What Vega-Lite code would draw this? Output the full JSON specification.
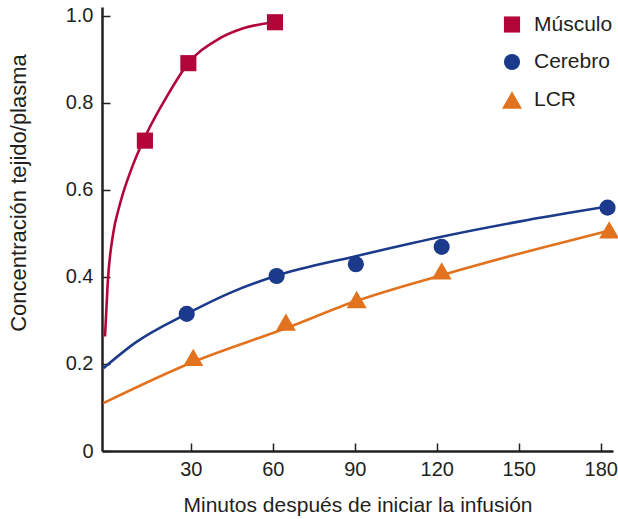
{
  "$schema": "https://vega.github.io/schema/vega-lite/v6.json",
  "width": 511,
  "height": 444,
  "autosize": {"type": "none"},
  "padding": {"left": 102, "top": 7, "right": 5, "bottom": 68},
  "background": "white",
  "config": {
    "view": {"stroke": null},
    "font": "Liberation Sans",
    "axis": {
      "grid": false,
      "domainColor": "#231f20",
      "domainWidth": 2.5,
      "tickColor": "#231f20",
      "tickWidth": 1.5,
      "tickSize": -8,
      "labelColor": "#231f20",
      "labelFont": "Liberation Sans",
      "labelFontSize": 20,
      "titleColor": "#231f20",
      "titleFont": "Liberation Sans",
      "titleFontWeight": "normal"
    },
    "legend": {
      "labelFont": "Liberation Sans",
      "labelFontSize": 21,
      "labelColor": "#231f20",
      "padding": 0
    }
  },
  "datasets": {
    "curves": [
      {"series": "Músculo", "t": -1.4, "v": 0.263},
      {"series": "Músculo", "t": -0.4, "v": 0.387},
      {"series": "Músculo", "t": 1.6, "v": 0.5},
      {"series": "Músculo", "t": 3.8, "v": 0.561},
      {"series": "Músculo", "t": 5.1, "v": 0.59},
      {"series": "Músculo", "t": 9.0, "v": 0.66},
      {"series": "Músculo", "t": 13.9, "v": 0.73},
      {"series": "Músculo", "t": 21.2, "v": 0.814},
      {"series": "Músculo", "t": 29.1, "v": 0.891},
      {"series": "Músculo", "t": 39.5, "v": 0.944},
      {"series": "Músculo", "t": 49.2, "v": 0.971},
      {"series": "Músculo", "t": 60.8, "v": 0.985},
      {"series": "Cerebro", "t": -2.0, "v": 0.19},
      {"series": "Cerebro", "t": 10.0, "v": 0.25},
      {"series": "Cerebro", "t": 28.5, "v": 0.315},
      {"series": "Cerebro", "t": 45.0, "v": 0.365},
      {"series": "Cerebro", "t": 61.0, "v": 0.402},
      {"series": "Cerebro", "t": 90.0, "v": 0.447},
      {"series": "Cerebro", "t": 120.0, "v": 0.49},
      {"series": "Cerebro", "t": 150.0, "v": 0.527},
      {"series": "Cerebro", "t": 182.0, "v": 0.561},
      {"series": "LCR", "t": -2.0, "v": 0.11},
      {"series": "LCR", "t": 31.0, "v": 0.205},
      {"series": "LCR", "t": 64.8, "v": 0.282},
      {"series": "LCR", "t": 90.7, "v": 0.345},
      {"series": "LCR", "t": 121.8, "v": 0.404},
      {"series": "LCR", "t": 157.8, "v": 0.466},
      {"series": "LCR", "t": 183.0, "v": 0.506}
    ],
    "points": [
      {"series": "Músculo", "t": 13.2, "v": 0.713},
      {"series": "Músculo", "t": 29.1, "v": 0.891},
      {"series": "Músculo", "t": 60.8, "v": 0.985},
      {"series": "Cerebro", "t": 28.5, "v": 0.315},
      {"series": "Cerebro", "t": 61.4, "v": 0.402},
      {"series": "Cerebro", "t": 90.4, "v": 0.429},
      {"series": "Cerebro", "t": 121.8, "v": 0.469},
      {"series": "Cerebro", "t": 182.5, "v": 0.559},
      {"series": "LCR", "t": 30.9, "v": 0.215},
      {"series": "LCR", "t": 64.8, "v": 0.296},
      {"series": "LCR", "t": 90.7, "v": 0.348},
      {"series": "LCR", "t": 121.8, "v": 0.414},
      {"series": "LCR", "t": 183.1, "v": 0.508}
    ]
  },
  "encoding": {
    "x": {
      "field": "t",
      "type": "quantitative",
      "scale": {"domain": [-2.5, 184.5], "nice": false, "zero": false},
      "axis": {
        "values": [30, 60, 90, 120, 150, 180],
        "title": "Minutos después de iniciar la infusión",
        "titleFontSize": 21,
        "labelPadding": 16,
        "titleX": 255.5,
        "titleY": 60.7,
        "titleAnchor": null,
        "titleAlign": "center",
        "titleBaseline": "alphabetic"
      }
    },
    "y": {
      "field": "v",
      "type": "quantitative",
      "scale": {"domain": [0, 1.02], "nice": false, "zero": false},
      "axis": {
        "values": [0, 0.2, 0.4, 0.6, 0.8, 1.0],
        "labelExpr": "datum.value == 0 ? '0' : format(datum.value, '.1f')",
        "title": "Concentración tejido/plasma",
        "titleFontSize": 22,
        "labelPadding": 17,
        "titleX": -77,
        "titleY": 185.5,
        "titleAngle": -90,
        "titleAlign": "center",
        "titleBaseline": "alphabetic"
      }
    }
  },
  "layer": [
    {
      "data": {"name": "curves"},
      "mark": {"type": "line", "interpolate": "monotone", "strokeWidth": 2.6},
      "encoding": {
        "stroke": {
          "field": "series",
          "type": "nominal",
          "sort": "ascending",
          "scale": {"range": ["#1c3a8c", "#e2721e", "#b2063b"]},
          "legend": null
        }
      }
    },
    {
      "data": {"name": "points"},
      "mark": {"type": "point", "filled": true, "opacity": 1},
      "encoding": {
        "color": {
          "field": "series",
          "type": "nominal",
          "scale": {"domain": ["Músculo", "Cerebro", "LCR"], "range": ["#b2063b", "#1c3a8c", "#e2721e"]},
          "legend": {
            "title": null,
            "orient": "none",
            "legendX": 399,
            "legendY": 7,
            "rowPadding": 14.5,
            "labelOffset": 11,
            "symbolOpacity": 1
          }
        },
        "shape": {
          "field": "series",
          "type": "nominal",
          "scale": {"domain": ["Músculo", "Cerebro", "LCR"], "range": ["square", "circle", "triangle-up"]},
          "legend": {
            "title": null,
            "orient": "none",
            "legendX": 399,
            "legendY": 7,
            "rowPadding": 14.5,
            "labelOffset": 11,
            "symbolOpacity": 1
          }
        },
        "size": {
          "field": "series",
          "type": "nominal",
          "scale": {"type": "ordinal", "domain": ["Músculo", "Cerebro", "LCR"], "range": [260, 260, 400]},
          "legend": {
            "title": null,
            "orient": "none",
            "legendX": 399,
            "legendY": 7,
            "rowPadding": 14.5,
            "labelOffset": 11,
            "symbolOpacity": 1
          }
        }
      }
    }
  ]
}
